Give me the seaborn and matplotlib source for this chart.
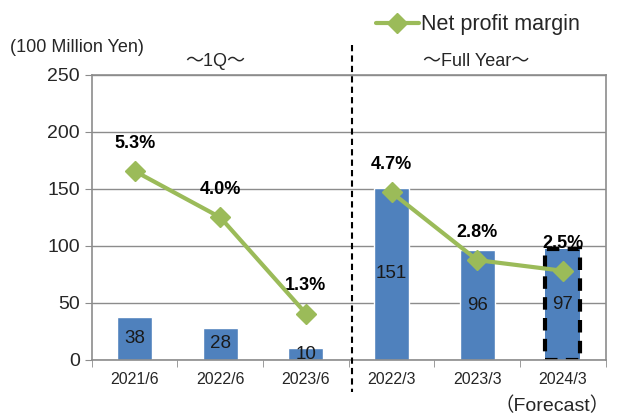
import numpy as np
import pandas as pd
import matplotlib
matplotlib.use('Agg')
import matplotlib.pyplot as plt
import seaborn as sns

# data
periods = ['2021/6', '2022/6', '2023/6', '2022/3', '2023/3', '2024/3']
net_profit = [38, 28, 10, 151, 96, 97]
margin = [5.3, 4.0, 1.3, 4.7, 2.8, 2.5]
margin_labels = ['5.3%', '4.0%', '1.3%', '4.7%', '2.8%', '2.5%']
group_a = [0, 1, 2]   # 1Q
group_b = [3, 4, 5]   # full year

sns.set_style("white")
plt.rcParams['font.family'] = ['Liberation Sans', 'Noto Sans CJK JP', 'DejaVu Sans']

bar_color = '#4F81BD'
line_color = '#9BBB59'
grey = '#8C8C8C'

fig = plt.figure(figsize=(6.2, 4.16), dpi=100)
ax = fig.add_axes([0.148, 0.135, 0.829, 0.685])

df = pd.DataFrame({'period': periods, 'profit': net_profit})
sns.barplot(data=df, x='period', y='profit', color=bar_color, width=0.41,
            saturation=1, ax=ax, zorder=2)
ax.set_xlim(-0.5, 5.5)
ax.set_ylim(0, 250)
ax.set_yticks(np.arange(0, 251, 50))
ax.yaxis.grid(True, color=grey, linewidth=1)
ax.set_axisbelow(True)
ax.set_xlabel('')
ax.set_ylabel('')
for s in ax.spines.values():
    s.set_color(grey)
    s.set_linewidth(1.2)
ax.tick_params(axis='y', labelsize=14, length=5, color=grey, left=True, direction='out')
ax.tick_params(axis='x', labelsize=11.5, length=0, pad=9)
ax.set_xticks(np.arange(-0.5, 6, 1), minor=True)
ax.tick_params(axis='x', which='minor', length=5, color=grey, bottom=True, direction='out')

# forecast bar gets the dashed outline
fc = ax.patches[5]
fc.set_edgecolor('black')
fc.set_linestyle((0, (3, 2)))
fc.set_linewidth(3)

for p, v in zip(ax.patches, net_profit):
    ax.text(p.get_x() + p.get_width() / 2, v / 2, str(v), ha='center', va='center',
            fontsize=13.5, color='#1a1a1a', zorder=4)

# margin on a hidden secondary scale (0-8%)
ax2 = ax.twinx()
ax2.set_ylim(0, 8)
ax2.axis('off')
for i, grp in enumerate([group_a, group_b]):
    ax2.plot(grp, [margin[j] for j in grp], color=line_color, linewidth=3,
             marker='D', markersize=10, zorder=5,
             label='Net profit margin' if i == 0 else None)
for j in range(len(periods)):
    ax2.annotate(margin_labels[j], (j, margin[j]), xytext=(0, 20),
                 textcoords='offset points', ha='center', va='center',
                 fontsize=13, fontweight='bold', color='black')

leg = fig.legend(loc='center left', bbox_to_anchor=(0.575, 0.94), frameon=False,
                 fontsize=15.5, handlelength=2.0, handletextpad=0.1)

# divider between 1Q and full year
fig.add_artist(plt.Line2D([352 / 620, 352 / 620], [1 - 45 / 416, 1 - 392 / 416],
                          color='black', linestyle=(0, (3, 2)), linewidth=1.5))

fig.text(10 / 620, 1 - 47 / 416, '(100 Million Yen)', fontsize=13, va='center', ha='left')
fig.text(215 / 620, 1 - 61 / 416, '～1Q～', fontsize=13, va='center', ha='center')
fig.text(476 / 620, 1 - 61 / 416, '～Full Year～', fontsize=13, va='center', ha='center')
fig.text(610 / 620, 1 - 406 / 416, '（Forecast）', fontsize=14, va='center', ha='right')

fig.savefig('out.png', dpi=100)
